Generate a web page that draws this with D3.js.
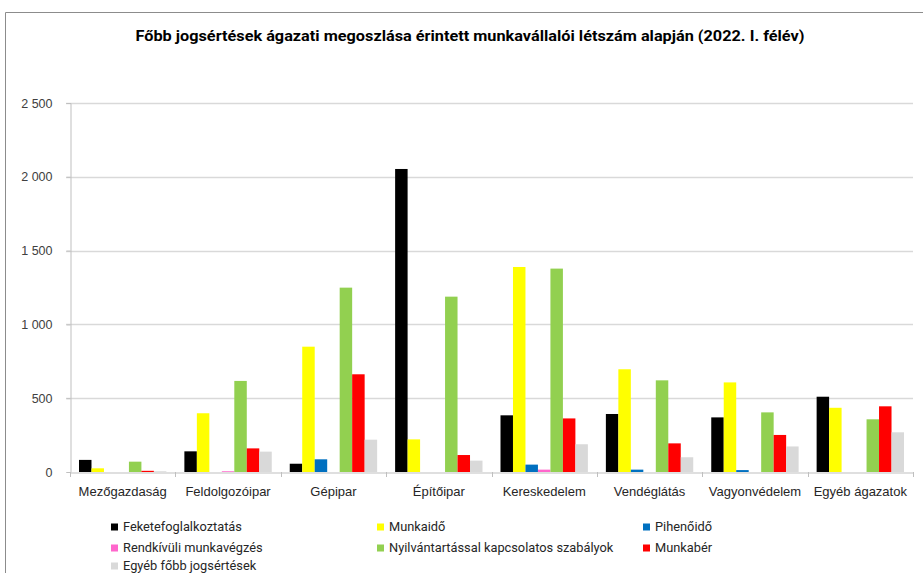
<!DOCTYPE html>
<html>
<head>
<meta charset="utf-8">
<script src="https://cdn.jsdelivr.net/npm/d3@7"></script>
<style>
  body { margin: 0; background: #fff; }
  svg { display: block; font-family: Roboto, "Liberation Sans", sans-serif; }
</style>
</head>
<body>
<svg id="chart" width="923" height="573"></svg>
<script>
const categories = ["Mezőgazdaság", "Feldolgozóipar", "Gépipar", "Építőipar", "Kereskedelem", "Vendéglátás", "Vagyonvédelem", "Egyéb ágazatok"];
const seriesNames = ["Feketefoglalkoztatás", "Munkaidő", "Pihenőidő", "Rendkívüli munkavégzés", "Nyilvántartással kapcsolatos szabályok", "Munkabér", "Egyéb főbb jogsértések"];
const seriesColors = ["#000000", "#ffff00", "#0070c0", "#ff66cc", "#92d050", "#ff0000", "#d9d9d9"];

const feketefoglalkoztatas = [82, 140, 56, 2053, 384, 393, 370, 510];
const munkaido = [25, 398, 849, 221, 1389, 696, 607, 435];
const pihenoido = [0, 0, 86, 0, 50, 16, 13, 0];
const rendkivuli = [0, 5, 0, 0, 16, 0, 0, 0];
const nyilvantartas = [70, 617, 1249, 1188, 1378, 621, 404, 357];
const munkaber = [8, 160, 662, 115, 363, 194, 251, 445];
const egyeb = [5, 138, 219, 77, 188, 100, 173, 269];

const yTicks = [0, 500, 1000, 1500, 2000, 2500];
const title = "Főbb jogsértések ágazati megoszlása érintett munkavállalói létszám alapján (2022. I. félév)";

const seriesValues = [feketefoglalkoztatas, munkaido, pihenoido, rendkivuli, nyilvantartas, munkaber, egyeb];

const svg = d3.select("#chart");
const width = 923, height = 573;

// chart frame (cropped at right and bottom like the original)
svg.append("path")
  .attr("d", `M5.5,${height + 5} V12.5 H${width + 5}`)
  .attr("fill", "none")
  .attr("stroke", "#8c8c8c");

svg.append("text")
  .attr("x", 470)
  .attr("y", 41)
  .attr("text-anchor", "middle")
  .attr("font-size", 15)
  .attr("font-weight", "bold")
  .attr("fill", "#000")
  .attr("textLength", 669)
  .attr("lengthAdjust", "spacingAndGlyphs")
  .text(title);

const x0 = d3.scaleBand().domain(categories).range([70, 913]).padding(0);
const x1 = d3.scaleBand().domain(seriesNames).range([9, x0.bandwidth() - 9]).padding(0);
const y = d3.scaleLinear().domain([0, 2500]).range([472, 103]);

const fmt = d3.formatLocale({ decimal: ",", thousands: "\u00a0", grouping: [3], currency: ["", ""] }).format(",");

// gridlines
svg.append("g")
  .selectAll("line")
  .data(yTicks.filter(d => d > 0))
  .join("line")
  .attr("x1", 66)
  .attr("x2", 913)
  .attr("y1", d => Math.round(y(d)) + 0.5)
  .attr("y2", d => Math.round(y(d)) + 0.5)
  .attr("stroke", "#d9d9d9")
  .attr("stroke-width", 1.5);

// y axis
const yAxis = svg.append("g")
  .attr("transform", "translate(70.5,0)")
  .call(d3.axisLeft(y).tickValues(yTicks).tickFormat(fmt).tickSize(4).tickPadding(14));
yAxis.select(".domain").attr("stroke", "#bfbfbf");
yAxis.selectAll(".tick line").attr("stroke", "#bfbfbf");
yAxis.selectAll("text").attr("font-size", 12.5).attr("fill", "#404040");

// bars
const groups = svg.append("g")
  .selectAll("g")
  .data(categories)
  .join("g")
  .attr("transform", d => `translate(${x0(d)},0)`);

groups.selectAll("rect")
  .data((c, i) => seriesNames.map((s, j) => ({ s, j, v: seriesValues[j][i] })))
  .join("rect")
  .attr("x", d => x1(d.s))
  .attr("width", x1.bandwidth())
  .attr("y", d => y(d.v))
  .attr("height", d => y(0) - y(d.v))
  .attr("fill", d => seriesColors[d.j]);

// x axis
const xAxis = svg.append("g")
  .attr("transform", `translate(0,${Math.round(y(0)) + 0.5})`)
  .call(d3.axisBottom(x0).tickSize(0).tickPadding(14));
xAxis.select(".domain").attr("stroke", "#bfbfbf");
xAxis.selectAll("text").attr("font-size", 13).attr("fill", "#262626");
svg.append("g")
  .selectAll("line")
  .data(categories.map(c => x0(c)).concat([x0.range()[1]]))
  .join("line")
  .attr("x1", d => Math.round(d) + 0.5)
  .attr("x2", d => Math.round(d) + 0.5)
  .attr("y1", Math.round(y(0)))
  .attr("y2", Math.round(y(0)) + 5)
  .attr("stroke", "#bfbfbf");

// legend
const legendCols = [111, 377, 643];
const legendRows = [527, 548, 566];
const legend = svg.append("g")
  .selectAll("g")
  .data(seriesNames)
  .join("g")
  .attr("transform", (d, i) => `translate(${legendCols[i % 3]},${legendRows[Math.floor(i / 3)]})`);
legend.append("rect")
  .attr("x", 0)
  .attr("y", -3.5)
  .attr("width", 7)
  .attr("height", 7)
  .attr("fill", (d, i) => seriesColors[i]);
legend.append("text")
  .attr("x", 12)
  .attr("dy", "0.35em")
  .attr("font-size", 12.8)
  .attr("fill", "#262626")
  .text(d => d);
</script>
</body>
</html>
